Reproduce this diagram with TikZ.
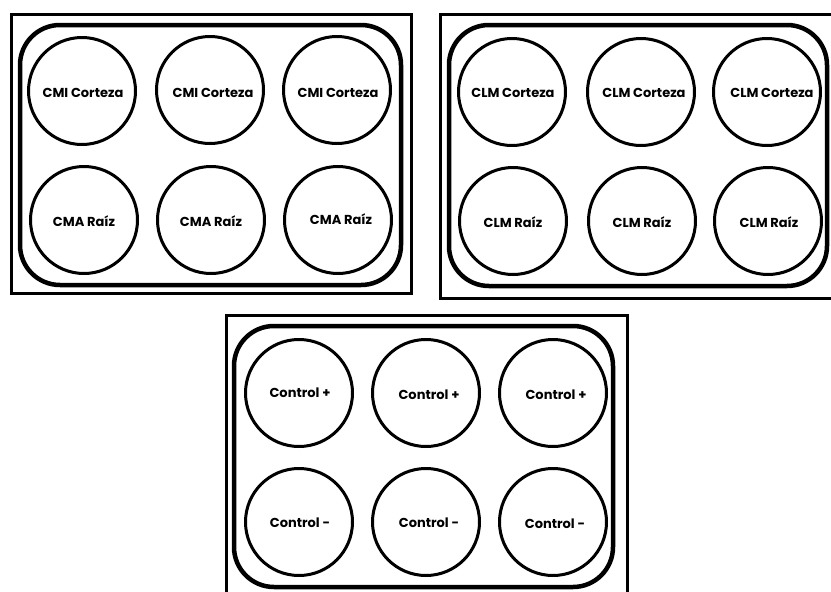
\documentclass[tikz,border=0pt]{standalone}
\usepackage{fontspec}
\setmainfont{Poppins}
\begin{document}
\begin{tikzpicture}[x=1pt,y=-1pt,
  tray/.style={draw=black,line width=3pt},
  rim/.style={draw=black,line width=4.5pt,rounded corners=40pt},
  well/.style={circle,draw=black,line width=3pt,minimum size=107pt,inner sep=0pt},
  tag/.style={font=\bfseries\fontsize{13}{15}\selectfont,inner sep=0pt}]
\useasboundingbox (0,0) rectangle (831,592);
\fill[white] (0,0) rectangle (831,592);
\clip (0,0) rectangle (831,592);

% plate 1: CMI / CMA
\draw[tray] (11.5,14.5) rectangle (411.5,293.5);
\draw[rim] (20,25) rectangle (401,285);
\node[well] (a1) at (82,91) {};
\node[well] (a2) at (210,90) {};
\node[well] (a3) at (337,90) {};
\node[well] (a4) at (84,220) {};
\node[well] (a5) at (211,220) {};
\node[well] (a6) at (338,220) {};
\node[tag] (ta1) at (83,93) {CMI Corteza};
\node[tag] (ta2) at (213,93) {CMI Corteza};
\node[tag] (ta3) at (338,93) {CMI Corteza};
\node[tag] (ta4) at (84,221) {CMA Raíz};
\node[tag] (ta5) at (211,221) {CMA Raíz};
\node[tag] (ta6) at (341,219) {CMA Raíz};

% plate 2: CLM
\draw[tray] (440.5,14.5) rectangle (840,298.5);
\draw[rim] (449,25) rectangle (827,286);
\node[well] (b1) at (512,92) {};
\node[well] (b2) at (641,92) {};
\node[well] (b3) at (767,92) {};
\node[well] (b4) at (513,221) {};
\node[well] (b5) at (642,221) {};
\node[well] (b6) at (768,221) {};
\node[tag] (tb1) at (513,93) {CLM Corteza};
\node[tag] (tb2) at (644,93) {CLM Corteza};
\node[tag] (tb3) at (772,93) {CLM Corteza};
\node[tag] (tb4) at (513,222) {CLM Raíz};
\node[tag] (tb5) at (642,222) {CLM Raíz};
\node[tag] (tb6) at (769,222) {CLM Raíz};

% plate 3: controls
\draw[tray] (226.5,315.5) rectangle (627.5,600);
\draw[rim] (234,326) rectangle (613,587);
\node[well] (c1) at (299,393) {};
\node[well] (c2) at (426,393) {};
\node[well] (c3) at (553,393) {};
\node[well] (c4) at (299,522) {};
\node[well] (c5) at (426,522) {};
\node[well] (c6) at (553,522) {};
\node[tag] (tc1) at (300,393) {Control +};
\node[tag] (tc2) at (429,395) {Control +};
\node[tag] (tc3) at (556,395) {Control +};
\node[tag] (tc4) at (300,523) {Control -};
\node[tag] (tc5) at (429,523) {Control -};
\node[tag] (tc6) at (555,524) {Control -};
\end{tikzpicture}
\end{document}
